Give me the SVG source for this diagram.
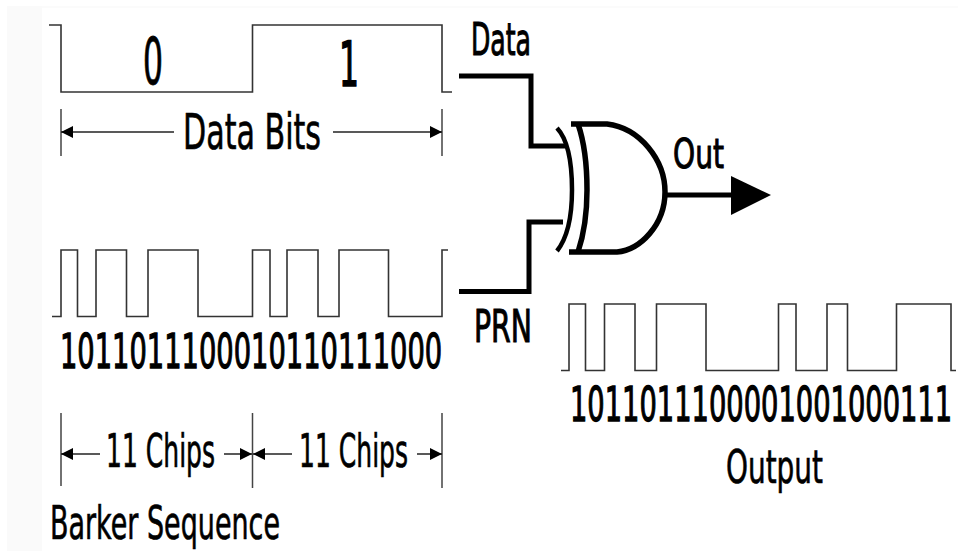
<svg xmlns="http://www.w3.org/2000/svg" width="961" height="551" viewBox="0 0 961 551">
<style>
text{font-family:"DejaVu Sans","Liberation Sans",sans-serif;fill:#000;stroke:#000}
.t{font-size:46px;stroke-width:.7}
.b{font-size:48px;stroke-width:1.3}
.h{font-size:44px;stroke-width:1.1}
.w{fill:none;stroke:#333;stroke-width:1.6}
.d{fill:none;stroke:#444;stroke-width:1.5}
.k{fill:none;stroke:#000;stroke-width:5}
.g{fill:none;stroke:#000;stroke-width:5.5}
.r{fill:none;stroke:#222;stroke-width:1.5;marker-end:url(#a)}
</style>
<defs>
<marker id="a" markerUnits="userSpaceOnUse" markerWidth="13" markerHeight="14" refX="12" refY="7" orient="auto"><path d="M0 1L12 7L0 13z" fill="#000"/></marker>
</defs>
<rect width="961" height="551" fill="#fff"/>
<rect x="7" y="6" width="35" height="545" fill="#fafafa"/>
<rect x="42" y="6" width="916" height="2" fill="#fbfbfb"/>
<g id="data-wave">
<path class="w" d="M49 25H61V92H252.500V25H442V92H452"/>
<text class="t" x="143" y="84" style="font-size:64px;stroke-width:1" textLength="20" lengthAdjust="spacingAndGlyphs">0</text>
<text class="t" x="339" y="86" style="font-size:62px;stroke-width:1.600" textLength="20" lengthAdjust="spacingAndGlyphs">1</text>
</g>
<g id="data-bits">
<path class="d" d="M61 109V156M442 109V156"/>
<text class="t" x="183" y="149" style="font-size:50px" textLength="138" lengthAdjust="spacingAndGlyphs">Data Bits</text>
</g>
<g id="chip-wave">
<path class="w" d="M52 316.500H61V250H77.500V316.500H96V250H126.500V316.500H148V250H198V316.500H252.500V250H270V316.500H287V250H318V316.500H339V250H388.500V316.500H442V250H448"/>
<text class="b" transform="translate(60 368) scale(.569 1)">1011011100010110111000</text>
</g>
<g id="chips">
<path class="d" d="M61 413V486M252.500 413V488M442 413V488"/>
<text class="t" x="106" y="467" textLength="109" lengthAdjust="spacingAndGlyphs">11 Chips</text>
<text class="t" x="299" y="467" textLength="109" lengthAdjust="spacingAndGlyphs">11 Chips</text>
</g>
<g id="barker"><text class="t" x="50" y="539" textLength="230" lengthAdjust="spacingAndGlyphs">Barker Sequence</text></g>
<g id="xor-gate">
<path class="g" style="stroke-width:4.500" d="M557 128Q572 144 572 190Q572 232 557 251"/>
<path class="g" d="M571 124H607C640 128 665 160 665 192C665 225 640 250 617 252H569"/>
<path class="g" d="M578 124Q587 150 587 190Q587 225 578 252"/>
</g>
<g id="connectors">
<path class="k" d="M459 76H531V146H565"/>
<path class="k" d="M459 291.500H529V222H563"/>
<path class="k" d="M665 195H735"/>
<path d="M731 176L771 195L731 215z" fill="#000"/>
<path class="r" d="M174 132H61"/>
<path class="r" d="M333 132H442"/>
<path class="r" d="M100 454H61"/>
<path class="r" d="M224 454H252"/>
<path class="r" d="M292 454H253"/>
<path class="r" d="M417 454H442"/>
</g>
<g id="labels">
<text class="h" x="471" y="55" textLength="60" lengthAdjust="spacingAndGlyphs">Data</text>
<text class="h" x="474" y="342" textLength="58" lengthAdjust="spacingAndGlyphs">PRN</text>
<text class="h" x="673" y="168" style="font-size:41px" textLength="51" lengthAdjust="spacingAndGlyphs">Out</text>
</g>
<g id="output-wave">
<path class="w" d="M561 370.500H569V304H585.500V370.500H604.500V304H635V370.500H656.500V304H706V370.500H778.500V304H796V370.500H827V304H847.500V370.500H896.500V304H951V370.500H956"/>
<text class="b" transform="translate(570 421) scale(.569 1)">1011011100001001000111</text>
<text class="t" x="726" y="483" textLength="97" lengthAdjust="spacingAndGlyphs">Output</text>
</g>
</svg>
